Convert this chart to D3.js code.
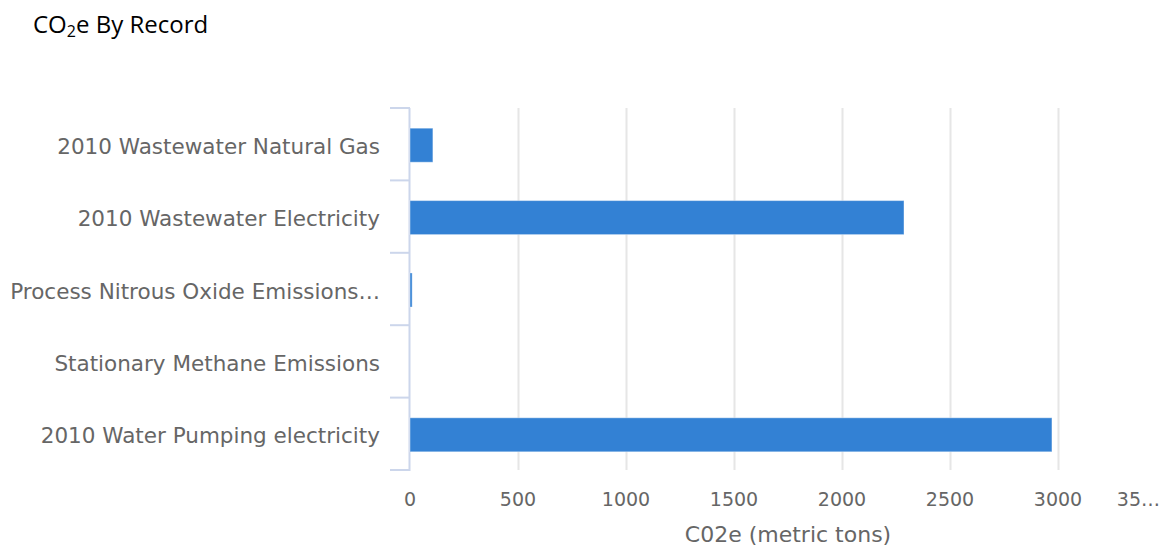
<!DOCTYPE html>
<html>
<head>
<meta charset="utf-8">
<script src="https://cdn.jsdelivr.net/npm/d3@7"></script>
<style>
  body { margin: 0; background: #fff; }
  svg { display: block; }
</style>
</head>
<body>
<div id="chart"></div>
<script>
// data
var categories = ["2010 Wastewater Natural Gas", "2010 Wastewater Electricity",
  "Process Nitrous Oxide Emissions…", "Stationary Methane Emissions",
  "2010 Water Pumping electricity"];
var values = [106, 2287, 10, 0, 2972];
var tickValues = [0, 500, 1000, 1500, 2000, 2500, 3000, 3500];
var tickLabels = ["0", "500", "1000", "1500", "2000", "2500", "3000", "35…"];

var W = 1164, H = 548;
var margin = {top: 108, left: 410, bottom: 78};
var plotH = H - margin.top - margin.bottom;

var svg = d3.select("#chart").append("svg")
  .attr("width", W).attr("height", H);

// title
svg.append("text")
  .attr("x", 33).attr("y", 33)
  .attr("font-family", "Open Sans, sans-serif")
  .attr("font-size", "24px")
  .attr("fill", "#000")
  .html("CO<tspan font-size='16px' dy='4'>2</tspan><tspan dy='-4'>e By Record</tspan>");

var x = d3.scaleLinear().domain([0, 3500]).range([margin.left, 1166]);
var y = d3.scaleBand().domain(categories)
  .range([margin.top, margin.top + plotH])
  .paddingInner(0.53).paddingOuter(0.265);

// gridlines
svg.append("g").selectAll("line")
  .data(tickValues.slice(1))
  .enter().append("line")
    .attr("x1", function(d){ return Math.round(x(d)) + 0.5 })
    .attr("x2", function(d){ return Math.round(x(d)) + 0.5 })
    .attr("y1", margin.top).attr("y2", margin.top + plotH)
    .attr("stroke", "#e6e6e6").attr("stroke-width", 2);

// x tick labels (last one pulled in so it fits)
svg.append("g").selectAll("text")
  .data(tickValues)
  .enter().append("text")
    .attr("x", function(d, i){ return i == tickValues.length - 1 ? W - 4 : x(d) })
    .attr("y", 506)
    .attr("text-anchor", function(d, i){ return i == tickValues.length - 1 ? "end" : "middle" })
    .attr("font-family", "DejaVu Sans, sans-serif")
    .attr("font-size", "19px")
    .attr("fill", "#666")
    .text(function(d, i){ return tickLabels[i] });

// x axis title
svg.append("text")
  .attr("x", 788).attr("y", 542)
  .attr("text-anchor", "middle")
  .attr("font-family", "DejaVu Sans, sans-serif")
  .attr("font-size", "22px")
  .attr("fill", "#666")
  .text("C02e (metric tons)");

// y axis line and boundary ticks
var bounds = categories.map(function(c){ return y(c) - y.step() * y.paddingInner() / 2 });
bounds.push(margin.top + plotH);
svg.append("line")
  .attr("x1", margin.left - 0.5).attr("x2", margin.left - 0.5)
  .attr("y1", margin.top).attr("y2", margin.top + plotH + 1)
  .attr("stroke", "#ccd6eb").attr("stroke-width", 2);
svg.append("g").selectAll("line")
  .data(bounds)
  .enter().append("line")
    .attr("x1", margin.left - 20).attr("x2", margin.left)
    .attr("y1", function(d){ return d }).attr("y2", function(d){ return d })
    .attr("stroke", "#ccd6eb").attr("stroke-width", 2);

// category labels
svg.append("g").selectAll("text")
  .data(categories)
  .enter().append("text")
    .attr("x", 380)
    .attr("y", function(d){ return y(d) + y.bandwidth() / 2 + 2 })
    .attr("dy", "0.35em")
    .attr("text-anchor", "end")
    .attr("font-family", "DejaVu Sans, sans-serif")
    .attr("font-size", "21.5px")
    .attr("fill", "#666")
    .text(function(d){ return d });

// bars
svg.append("g").selectAll("rect")
  .data(values)
  .enter().append("rect")
    .attr("x", margin.left)
    .attr("y", function(d, i){ return y(categories[i]) + 1 })
    .attr("width", function(d){ return x(d) - x(0) })
    .attr("height", y.bandwidth())
    .attr("fill", "#3381d4")
    .attr("stroke", "#fff").attr("stroke-opacity", 0.4).attr("stroke-width", 1);
</script>
</body>
</html>
